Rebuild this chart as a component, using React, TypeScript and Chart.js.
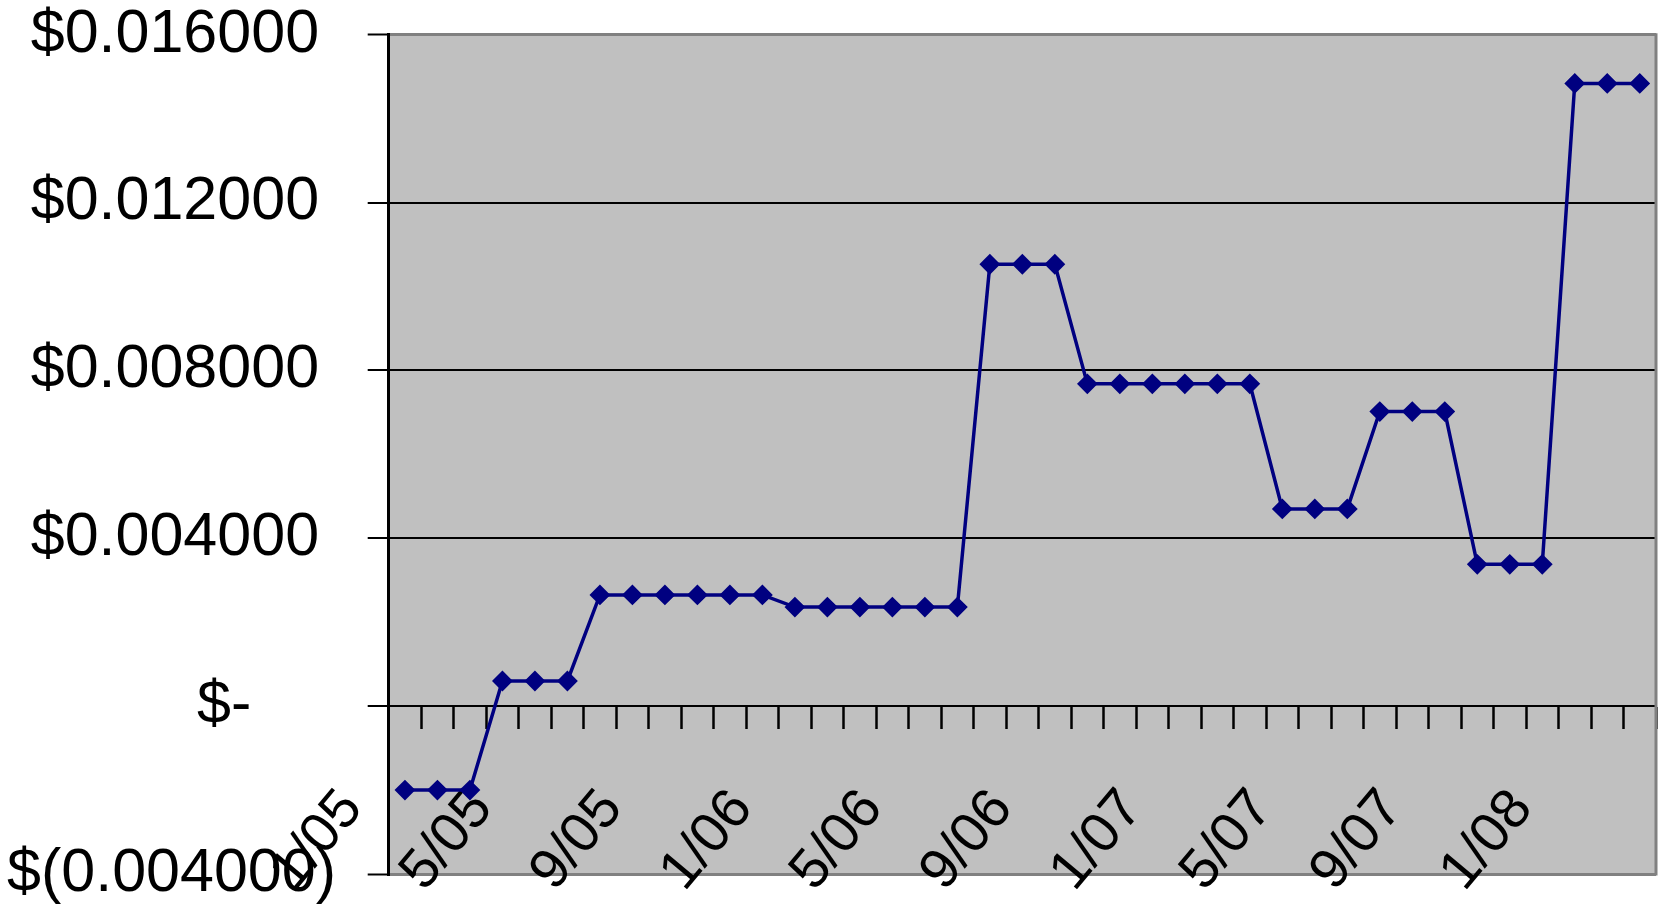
import React, { useEffect, useRef } from "react";
import { Chart, registerables } from "chart.js";

Chart.register(...registerables);

// Monthly categories, January 2005 through March 2008
const months = [
  "1/05", "2/05", "3/05", "4/05", "5/05", "6/05", "7/05", "8/05", "9/05", "10/05", "11/05", "12/05",
  "1/06", "2/06", "3/06", "4/06", "5/06", "6/06", "7/06", "8/06", "9/06", "10/06", "11/06", "12/06",
  "1/07", "2/07", "3/07", "4/07", "5/07", "6/07", "7/07", "8/07", "9/07", "10/07", "11/07", "12/07",
  "1/08", "2/08", "3/08",
];

// Value per month (dollars)
const monthlyValues = [
  -0.002, -0.002, -0.002,
  0.0006, 0.0006, 0.0006,
  0.00265, 0.00265, 0.00265, 0.00265, 0.00265, 0.00265,
  0.00236, 0.00236, 0.00236, 0.00236, 0.00236, 0.00236,
  0.01053, 0.01053, 0.01053,
  0.00768, 0.00768, 0.00768, 0.00768, 0.00768, 0.00768,
  0.0047, 0.0047, 0.0047,
  0.00702, 0.00702, 0.00702,
  0.00338, 0.00338, 0.00338,
  0.01484, 0.01484, 0.01484,
];

// Value axis
const yMin = -0.004;
const yMax = 0.016;
const yStep = 0.004;
const yTickLabels = ["$(0.004000)", "$-", "$0.004000", "$0.008000", "$0.012000", "$0.016000"];

// Every fourth month carries a label
const labelEvery = 4;

const FONT = "'Liberation Sans', Arial, sans-serif";
const NAVY = "#000080";
const PLOT_GRAY = "#C0C0C0";
const FRAME_GRAY = "#808080";

// Accounting-style alignment: digits line up, ")" hangs past them
function alignAccounting(label: string): string {
  if (label.endsWith(")")) return label;
  if (label === "$-") return label + "     ";
  return label + " ";
}

// Gray plot area and its right-hand frame
const plotFrame = {
  id: "plotFrame",
  beforeDraw(chart: any) {
    const { ctx, chartArea: a } = chart;
    ctx.save();
    ctx.fillStyle = PLOT_GRAY;
    ctx.fillRect(a.left, a.top, a.right - a.left, a.bottom - a.top);
    ctx.restore();
  },
  beforeDatasetsDraw(chart: any) {
    const { ctx, chartArea: a } = chart;
    ctx.save();
    ctx.strokeStyle = FRAME_GRAY;
    ctx.lineWidth = 3;
    ctx.beginPath();
    ctx.moveTo(a.right, a.top - 1.5);
    ctx.lineTo(a.right, a.bottom + 1.5);
    ctx.stroke();
    ctx.restore();
  },
};

function zeroPadding(scale: any) {
  scale.paddingLeft = 0;
  scale.paddingRight = 0;
  scale.paddingTop = 0;
  scale.paddingBottom = 0;
}

export default function App() {
  const canvasRef = useRef<HTMLCanvasElement | null>(null);

  useEffect(() => {
    const canvas = canvasRef.current;
    if (!canvas) return;
    const lastTick = yTickLabels.length - 1;

    const chart = new Chart(canvas, {
      type: "line",
      data: {
        labels: months,
        datasets: [
          {
            data: monthlyValues,
            borderColor: NAVY,
            borderWidth: 3.5,
            backgroundColor: NAVY,
            pointBackgroundColor: NAVY,
            pointBorderColor: NAVY,
            pointStyle: "rectRot",
            pointRadius: 9,
            pointBorderWidth: 2,
            tension: 0,
            fill: false,
          },
        ],
      },
      options: {
        animation: false,
        responsive: false,
        devicePixelRatio: 1,
        events: [],
        layout: { padding: { left: 0, top: 34.7, right: 7.6, bottom: 36 } },
        plugins: {
          legend: { display: false },
          tooltip: { enabled: false },
          title: { display: false },
        },
        scales: {
          x: {
            type: "category",
            // category axis crosses the value axis at zero
            position: { y: 0 } as any,
            offset: true,
            z: 1,
            grid: {
              display: true,
              drawOnChartArea: false,
              drawTicks: true,
              tickLength: 22,
              tickWidth: 2.5,
              tickColor: "#000",
              offset: true,
            },
            border: { display: true, color: "#000", width: 2 },
            ticks: {
              autoSkip: false,
              minRotation: 50,
              maxRotation: 50,
              padding: 49.3,
              labelOffset: -52.4,
              color: "#000",
              font: { family: FONT, size: 56 },
              callback: (_v: any, i: number) => (i % labelEvery === 0 ? months[i] : ""),
            },
            afterFit: (scale: any) => zeroPadding(scale),
          },
          y: {
            min: yMin,
            max: yMax,
            grid: {
              color: (c: any) => (c.index === 0 || c.index === lastTick ? FRAME_GRAY : "#000"),
              lineWidth: (c: any) => (c.index === 0 || c.index === lastTick ? 3 : 2),
              drawTicks: true,
              tickLength: 21,
              tickWidth: 2,
              tickColor: "#000",
            },
            border: { display: true, color: "#000", width: 3 },
            ticks: {
              stepSize: yStep,
              padding: 31.7,
              color: "#000",
              font: { family: FONT, size: 61 },
              callback: (_v: any, i: number) => alignAccounting(yTickLabels[i] ?? ""),
            },
            afterFit: (scale: any) => {
              scale.width = 388.7;
              zeroPadding(scale);
            },
          },
        },
      },
      plugins: [plotFrame],
    });

    return () => chart.destroy();
  }, []);

  return (
    <div style={{ position: "absolute", left: 0, top: 0, width: 1667, height: 910, background: "#fff" }}>
      <canvas ref={canvasRef} width={1667} height={910} style={{ display: "block", width: 1667, height: 910 }} />
    </div>
  );
}
